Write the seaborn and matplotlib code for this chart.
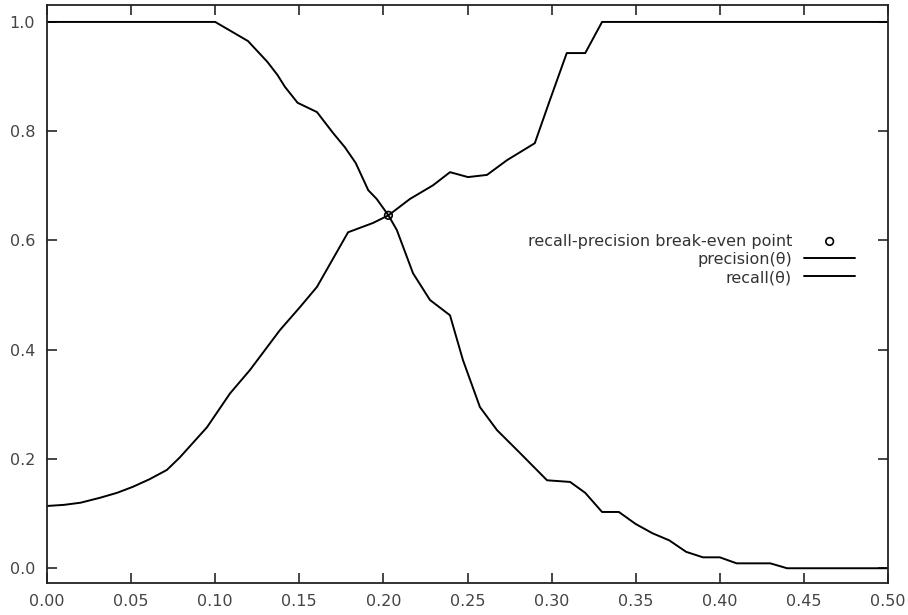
import numpy as np
import pandas as pd
import matplotlib
matplotlib.use("Agg")
import matplotlib.pyplot as plt
import seaborn as sns

# precision(theta)
prec_x = [0.00, 0.100, 0.1195, 0.131, 0.137, 0.1415, 0.149, 0.1605, 0.170, 0.177,
          0.1835, 0.191, 0.196, 0.203, 0.208, 0.2176, 0.2277, 0.2396, 0.2473,
          0.2574, 0.2675, 0.2812, 0.2973, 0.311, 0.320, 0.330, 0.340, 0.350,
          0.360, 0.370, 0.380, 0.390, 0.400, 0.410, 0.430, 0.440, 0.500]
prec_y = [1.000, 1.000, 0.965, 0.927, 0.903, 0.881, 0.852, 0.835, 0.797, 0.771,
          0.742, 0.692, 0.676, 0.646, 0.619, 0.540, 0.491, 0.463, 0.381,
          0.295, 0.253, 0.211, 0.161, 0.158, 0.138, 0.103, 0.103, 0.081,
          0.064, 0.051, 0.030, 0.020, 0.020, 0.009, 0.009, 0.000, 0.000]

# recall(theta)
rec_x = [0.00, 0.010, 0.020, 0.0315, 0.0416, 0.051, 0.061, 0.0713, 0.079, 0.0951,
         0.1088, 0.1207, 0.1385, 0.1504, 0.1605, 0.179, 0.1938, 0.203, 0.2158,
         0.2295, 0.2396, 0.2503, 0.2616, 0.2735, 0.290, 0.299, 0.309, 0.320,
         0.330, 0.500]
rec_y = [0.114, 0.116, 0.120, 0.129, 0.138, 0.149, 0.163, 0.180, 0.203, 0.258,
         0.320, 0.363, 0.436, 0.478, 0.515, 0.615, 0.632, 0.646, 0.676,
         0.701, 0.725, 0.716, 0.720, 0.747, 0.778, 0.857, 0.943, 0.943,
         1.000, 1.000]

# break-even point
bep_x = [0.203]
bep_y = [0.646]

xticks = [0.00, 0.05, 0.10, 0.15, 0.20, 0.25, 0.30, 0.35, 0.40, 0.45, 0.50]
yticks = [0.0, 0.2, 0.4, 0.6, 0.8, 1.0]

sns.set_style("ticks")
plt.rcParams['font.family'] = ['DejaVu Sans']

fig = plt.figure(figsize=(9.08, 6.15), dpi=100)
ax = fig.add_axes([47 / 908, 1 - 583 / 615, 841 / 908, 578 / 615])

prec = pd.DataFrame({"x": prec_x, "y": prec_y})
rec = pd.DataFrame({"x": rec_x, "y": rec_y})

sns.scatterplot(x=bep_x, y=bep_y, ax=ax, marker="o", s=30, facecolor="none",
                edgecolor="black", linewidth=1.2, zorder=5,
                label="recall-precision break-even point")
sns.lineplot(data=prec, x="x", y="y", ax=ax, color="black", linewidth=1.4,
             label="precision(θ)")
sns.lineplot(data=rec, x="x", y="y", ax=ax, color="black", linewidth=1.4,
             label="recall(θ)")

ax.set_xlim(0, 0.5)
ax.set_ylim(-0.027, 1.031)
ax.set_xticks(xticks)
ax.set_xticklabels([f"{v:.2f}" for v in xticks])
ax.set_yticks(yticks)
ax.set_yticklabels([f"{v:.1f}" for v in yticks])
ax.set_xlabel("")
ax.set_ylabel("")
ax.tick_params(direction="in", length=7, width=1.2, top=True, right=True,
               labelsize=11.5, labelcolor="#444444")
ax.tick_params(axis="x", pad=8)
ax.tick_params(axis="y", pad=8.5)
for s in ax.spines.values():
    s.set_linewidth(1.3)
    s.set_color("#222222")

leg = ax.legend(loc="center right", bbox_to_anchor=(0.961, 0.56),
                frameon=False, markerfirst=False, fontsize=11.5,
                handlelength=3.2, labelspacing=0.2, handletextpad=0.75,
                borderpad=0, borderaxespad=0)
for t in leg.get_texts():
    t.set_ha("right")
    t.set_color("#333333")
leg._legend_box.align = "right"

fig.savefig("out.png", dpi=100)
